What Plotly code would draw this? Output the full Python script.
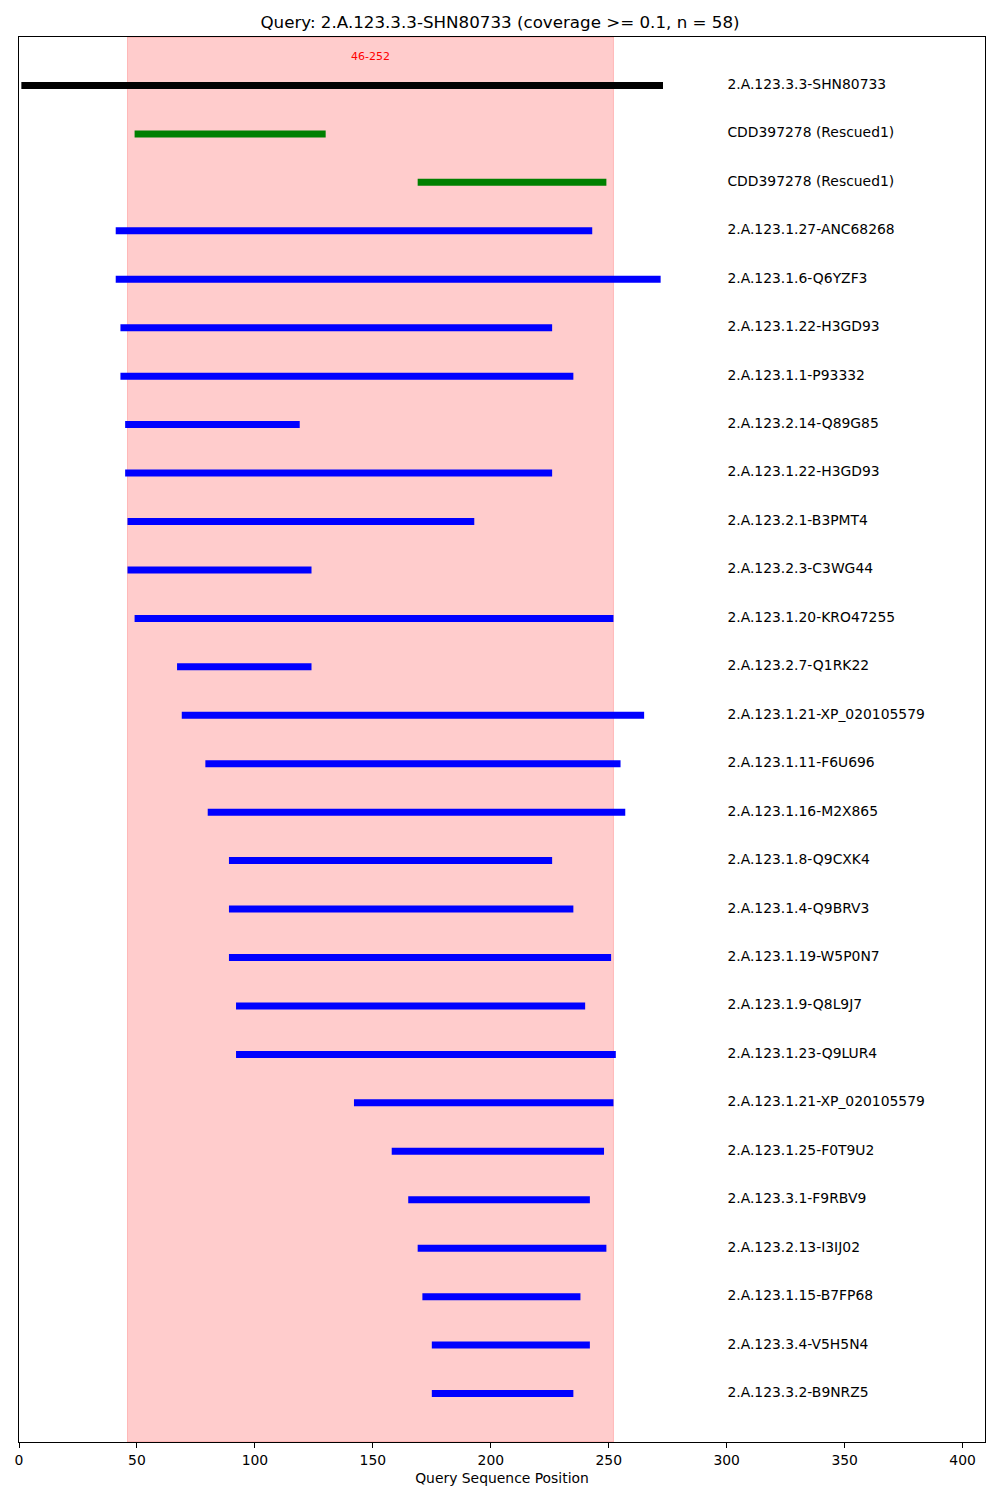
import plotly.graph_objects as go

# ---- data ----
labels = [
    "2.A.123.3.3-SHN80733",
    "CDD397278 (Rescued1)",
    "CDD397278 (Rescued1)",
    "2.A.123.1.27-ANC68268",
    "2.A.123.1.6-Q6YZF3",
    "2.A.123.1.22-H3GD93",
    "2.A.123.1.1-P93332",
    "2.A.123.2.14-Q89G85",
    "2.A.123.1.22-H3GD93",
    "2.A.123.2.1-B3PMT4",
    "2.A.123.2.3-C3WG44",
    "2.A.123.1.20-KRO47255",
    "2.A.123.2.7-Q1RK22",
    "2.A.123.1.21-XP_020105579",
    "2.A.123.1.11-F6U696",
    "2.A.123.1.16-M2X865",
    "2.A.123.1.8-Q9CXK4",
    "2.A.123.1.4-Q9BRV3",
    "2.A.123.1.19-W5P0N7",
    "2.A.123.1.9-Q8L9J7",
    "2.A.123.1.23-Q9LUR4",
    "2.A.123.1.21-XP_020105579",
    "2.A.123.1.25-F0T9U2",
    "2.A.123.3.1-F9RBV9",
    "2.A.123.2.13-I3IJ02",
    "2.A.123.1.15-B7FP68",
    "2.A.123.3.4-V5H5N4",
    "2.A.123.3.2-B9NRZ5",
]
starts = [1, 49, 169, 41, 41, 43, 43, 45, 45, 46, 46, 49, 67, 69, 79, 80,
          89, 89, 89, 92, 92, 142, 158, 165, 169, 171, 175, 175]
ends = [273, 130, 249, 243, 272, 226, 235, 119, 226, 193, 124, 252, 124, 265, 255, 257,
        226, 235, 251, 240, 253, 252, 248, 242, 249, 238, 242, 235]
kinds = ["query", "rescued", "rescued"] + ["hit"] * 25
query_len = 273
region_start, region_end = 46, 252
title_text = "Query: 2.A.123.3.3-SHN80733 (coverage >= 0.1, n = 58)"

colors = {"query": "black", "rescued": "#008000", "hit": "#0000ff"}

fig = go.Figure()

for kind in ["query", "rescued", "hit"]:
    xs, ys = [], []
    for i, (s, e, k) in enumerate(zip(starts, ends, kinds)):
        if k == kind:
            xs += [s, e, None]
            ys += [i, i, None]
    fig.add_trace(go.Scatter(x=xs, y=ys, mode="lines",
                             line=dict(color=colors[kind], width=7),
                             hoverinfo="skip", showlegend=False))

# labels
fig.add_trace(go.Scatter(
    x=[query_len * 1.1] * len(labels), y=list(range(len(labels))),
    mode="text", text=labels, textposition="middle right",
    textfont=dict(family="DejaVu Sans", size=13.9, color="black"),
    hoverinfo="skip", showlegend=False))

# highlighted region
fig.add_shape(type="rect", xref="x", yref="paper",
              x0=region_start, x1=region_end, y0=0, y1=1,
              fillcolor="rgba(255,0,0,0.2)",
              line=dict(color="rgba(255,0,0,0.2)", width=1),
              layer="below")

fig.add_annotation(x=(region_start + region_end) / 2, y=-0.6, xref="x", yref="y",
                   text=f"{region_start}-{region_end}", showarrow=False,
                   font=dict(family="DejaVu Sans", size=11, color="red"))

fig.update_layout(
    width=1000, height=1500,
    margin=dict(l=19, r=15, t=37, b=58),
    paper_bgcolor="white", plot_bgcolor="white",
    font=dict(family="DejaVu Sans", color="black"),
    title=dict(text=title_text, x=0.5, xanchor="center",
               y=1 - 22 / 1500, yref="container", yanchor="middle",
               font=dict(family="DejaVu Sans", size=16.7, color="black")),
    xaxis=dict(range=[0, query_len * 1.5], tickvals=[0, 50, 100, 150, 200, 250, 300, 350, 400],
               ticks="outside", ticklen=5, tickwidth=1, tickcolor="black",
               showline=True, mirror=True, linecolor="black", linewidth=1,
               showgrid=False, zeroline=False,
               tickfont=dict(family="DejaVu Sans", size=13.9, color="black"),
               title=dict(text="Query Sequence Position", standoff=6,
                          font=dict(family="DejaVu Sans", size=13.9, color="black"))),
    yaxis=dict(range=[len(labels), -1], showticklabels=False, ticks="",
               showline=True, mirror=True, linecolor="black", linewidth=1,
               showgrid=False, zeroline=False),
)

fig.write_html("out.html")
